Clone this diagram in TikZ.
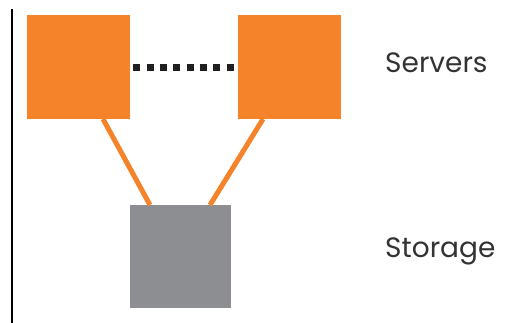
\documentclass[tikz,border=0pt]{standalone}
\usepackage{fontspec}
\setmainfont{Poppins}
\definecolor{srvorange}{HTML}{F5832A}
\definecolor{stgray}{HTML}{8D8E91}
\definecolor{txtgray}{HTML}{333333}
\begin{document}
\begin{tikzpicture}[x=1pt,y=-1pt,
  box/.style={draw=none,minimum width=103pt,minimum height=104pt,inner sep=0pt,anchor=north west},
  server/.style={box,fill=srvorange},
  storagebox/.style={box,fill=stgray,minimum width=101pt,minimum height=103pt},
  link/.style={srvorange,line width=5pt},
  dotline/.style={black!88,line width=7pt,dash pattern=on 7pt off 6.3pt},
  label/.style={text=txtgray,font=\fontsize{28}{28}\selectfont,anchor=base west,inner sep=0pt}]
\useasboundingbox (0,0) rectangle (511,323);
\draw[black,line width=2pt] (12,9) -- (12,323);
\node[server] (s1) at (27,15) {};
\node[server] (s2) at (238,15) {};
\node[storagebox] (st) at (130,205) {};
\coordinate (a1) at (103,119);
\coordinate (a2) at (150,205);
\coordinate (b1) at (263,119);
\coordinate (b2) at (210,205);
\draw[link] (a1) -- (a2);
\draw[link] (b1) -- (b2);
\draw[dotline] (s1.east) ++(3,0) coordinate (d1) -- (s2.west);
\node[label] (srv) at (385,73) {Servers};
\node[label] (stg) at (385,257) {Storage};
\end{tikzpicture}
\end{document}
